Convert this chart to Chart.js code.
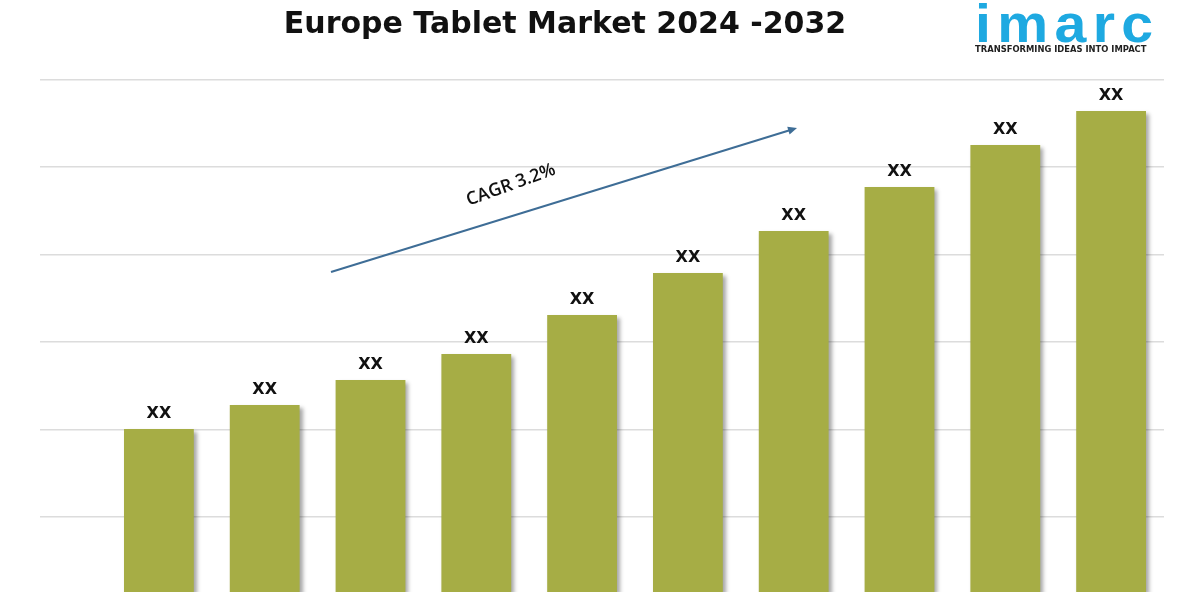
<!DOCTYPE html>
<html>
<head>
<meta charset="utf-8">
<script src="https://cdn.jsdelivr.net/npm/chart.js@4.4.1/dist/chart.umd.min.js"></script>
<style>
    body { margin: 0; background: #ffffff; }
    #wrap { position: relative; width: 1200px; height: 600px; overflow: hidden; }
    #title {
        position: absolute; left: 0; top: 5px; width: 1130px; text-align: center;
        font-family: "DejaVu Sans", sans-serif; font-weight: bold; font-size: 30px; color: #111;
    }
    #logo { position: absolute; left: 975px; top: -4px; width: 185px; }
    #logo .brand {
        font-family: "Liberation Sans", Arial, sans-serif; font-weight: bold; font-size: 54px;
        color: #1ea9e1; letter-spacing: 6px; line-height: 54px;
        transform: scaleX(1.06); transform-origin: left;
    }
    #logo .tag {
        font-family: "DejaVu Sans", sans-serif; font-weight: bold; font-size: 8.4px;
        color: #222; margin-top: -6px; white-space: nowrap;
    }
</style>
</head>
<body>
<div id="wrap">
    <canvas id="mainChart" width="1200" height="600"></canvas>
    <div id="title">Europe Tablet Market 2024 -2032</div>
    <div id="logo">
        <div class="brand">imarc</div>
        <div class="tag">TRANSFORMING IDEAS INTO IMPACT</div>
    </div>
</div>
<script>
// --- DADOS ---
const years = ['2023', '2024', '2025', '2026', '2027', '2028', '2029', '2030', '2031', '2032'];
const marketValues = [163, 187, 212, 238, 277, 319, 361, 405, 447, 481];
const valueLabels = ['XX', 'XX', 'XX', 'XX', 'XX', 'XX', 'XX', 'XX', 'XX', 'XX'];
const gridValues = [75, 162, 250, 337, 425, 512];
const cagrText = 'CAGR 3.2%';

// sombra nas barras
const barShadow = {
    id: 'barShadow',
    beforeDatasetsDraw(chart) {
        const ctx = chart.ctx;
        ctx.save();
        ctx.shadowColor = 'rgba(0, 0, 0, 0.35)';
        ctx.shadowBlur = 4;
        ctx.shadowOffsetX = 3;
        ctx.shadowOffsetY = 3;
    },
    afterDatasetsDraw(chart) {
        chart.ctx.restore();
    }
};

// rótulos XX e seta do CAGR
const extras = {
    id: 'extras',
    afterDraw(chart) {
        const ctx = chart.ctx;
        const meta = chart.getDatasetMeta(0);
        ctx.save();
        ctx.fillStyle = '#111';
        ctx.font = 'bold 16px "DejaVu Sans", sans-serif';
        ctx.textAlign = 'center';
        ctx.textBaseline = 'bottom';
        meta.data.forEach((bar, i) => {
            ctx.fillText(valueLabels[i], bar.x, bar.y - 7);
        });

        // seta
        const x1 = 331, y1 = 272, x2 = 797, y2 = 128;
        const ang = Math.atan2(y2 - y1, x2 - x1);
        ctx.strokeStyle = '#3e6d96';
        ctx.fillStyle = '#3e6d96';
        ctx.lineWidth = 2;
        ctx.beginPath();
        ctx.moveTo(x1, y1);
        ctx.lineTo(x2 - 6 * Math.cos(ang), y2 - 6 * Math.sin(ang));
        ctx.stroke();
        ctx.beginPath();
        ctx.moveTo(x2, y2);
        ctx.lineTo(x2 - 9 * Math.cos(ang) + 4 * Math.sin(ang), y2 - 9 * Math.sin(ang) - 4 * Math.cos(ang));
        ctx.lineTo(x2 - 9 * Math.cos(ang) - 4 * Math.sin(ang), y2 - 9 * Math.sin(ang) + 4 * Math.cos(ang));
        ctx.closePath();
        ctx.fill();

        ctx.translate(511, 185);
        ctx.rotate(-20 * Math.PI / 180);
        ctx.fillStyle = '#111';
        ctx.font = '600 18px "Open Sans", sans-serif';
        ctx.textBaseline = 'middle';
        ctx.fillText(cagrText, 0, 0);
        ctx.restore();
    }
};

document.addEventListener('DOMContentLoaded', () => {
    const ctx = document.getElementById('mainChart').getContext('2d');
    new Chart(ctx, {
        type: 'bar',
        data: {
            labels: years,
            datasets: [{
                data: marketValues,
                backgroundColor: '#a6ad45',
                borderWidth: 0,
                categoryPercentage: 1,
                barPercentage: 0.66
            }]
        },
        options: {
            responsive: false,
            animation: false,
            layout: { padding: { left: 40, right: 36, top: 80, bottom: 8 } },
            plugins: { legend: { display: false }, tooltip: { enabled: false }, title: { display: false } },
            scales: {
                x: { display: false },
                y: {
                    min: 0,
                    max: 512,
                    afterBuildTicks: (axis) => { axis.ticks = gridValues.map(v => ({ value: v })); },
                    ticks: { display: false },
                    grid: { color: '#dcdcdc', lineWidth: 1.5, drawTicks: true, tickLength: 66 },
                    border: { display: false }
                }
            }
        },
        plugins: [barShadow, extras]
    });
});
</script>
</body>
</html>
